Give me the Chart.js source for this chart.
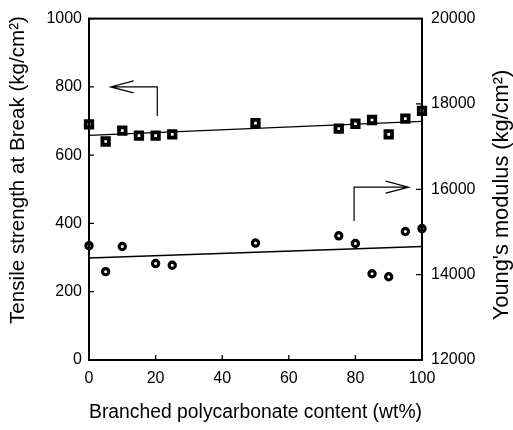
<!DOCTYPE html>
<html>
<head>
<meta charset="utf-8">
<script src="https://cdn.jsdelivr.net/npm/chart.js@4"></script>
<style>
  body { margin: 0; background: #fff; }
  #wrap { width: 513px; height: 430px; }
</style>
</head>
<body>
<div id="wrap"><canvas id="chart" width="513" height="430"></canvas></div>
<script>
// values
const content = [0, 5, 10, 15, 20, 25, 50, 75, 80, 85, 90, 95, 100];
const tensile = [690, 640, 672, 657, 657, 661, 694, 678, 692, 703, 661, 707, 730];

const modContent = [0, 5, 10, 20, 25, 50, 75, 80, 85, 90, 95, 100];
const modulus = [14680, 14070, 14660, 14260, 14220, 14740, 14910, 14730, 14020, 13950, 15010, 15080];

const fitContent = [0, 100];
const tensileFit = [658, 699];
const modulusFit = [14390, 14660];

const xTicks = [0, 20, 40, 60, 80, 100];
const tensileTicks = [0, 200, 400, 600, 800, 1000];
const modulusTicks = [12000, 14000, 16000, 18000, 20000];

// arrow annotations, in data units (last point is the tip)
const tensileArrow = [[20.5, 715], [20.5, 800], [6.5, 800]];
const modulusArrow = [[79.6, 15260], [79.6, 16050], [96, 16050]];

const FONT = '"Liberation Sans", Arial, sans-serif';

const toPoints = (xs, ys) => xs.map((x, i) => ({ x: x, y: ys[i] }));

const frame = {
  id: 'frame',
  afterDraw(chart) {
    const { ctx, chartArea: a, scales } = chart;
    ctx.save();
    ctx.strokeStyle = '#000';
    ctx.lineWidth = 2;
    ctx.strokeRect(a.left, a.top, a.right - a.left, a.bottom - a.top);

    // inward tick marks
    ctx.lineWidth = 1.3;
    ctx.beginPath();
    xTicks.forEach((v) => {
      const x = scales.x.getPixelForValue(v);
      ctx.moveTo(x, a.bottom); ctx.lineTo(x, a.bottom - 5);
    });
    tensileTicks.forEach((v) => {
      const y = scales.y.getPixelForValue(v);
      ctx.moveTo(a.left, y); ctx.lineTo(a.left + 5, y);
    });
    modulusTicks.forEach((v) => {
      const y = scales.y1.getPixelForValue(v);
      ctx.moveTo(a.right, y); ctx.lineTo(a.right - 6, y);
    });
    ctx.stroke();

    // arrows
    const arrow = (pts, yScale, dir) => {
      const p = pts.map((q) => [scales.x.getPixelForValue(q[0]), yScale.getPixelForValue(q[1])]);
      ctx.beginPath();
      ctx.moveTo(p[0][0], p[0][1]);
      p.slice(1).forEach((q) => ctx.lineTo(q[0], q[1]));
      const tip = p[p.length - 1];
      ctx.moveTo(tip[0] - dir * 23, tip[1] - 6);
      ctx.lineTo(tip[0], tip[1]);
      ctx.lineTo(tip[0] - dir * 23, tip[1] + 6);
      ctx.stroke();
    };
    ctx.lineWidth = 1.2;
    arrow(tensileArrow, scales.y, -1);
    arrow(modulusArrow, scales.y1, 1);

    // vertical axis titles, both reading bottom to top
    ctx.fillStyle = '#000';
    ctx.textAlign = 'center';
    ctx.textBaseline = 'middle';
    ctx.save();
    ctx.font = '20.6px ' + FONT;
    ctx.translate(18, 170);
    ctx.rotate(-Math.PI / 2);
    ctx.fillText('Tensile strength at Break (kg/cm²)', 0, 0);
    ctx.restore();
    ctx.save();
    ctx.font = '21.8px ' + FONT;
    ctx.translate(502, 195);
    ctx.rotate(-Math.PI / 2);
    ctx.fillText('Young\'s modulus (kg/cm²)', 0, 0);
    ctx.restore();
    ctx.restore();
  }
};

const tickStyle = (pad) => ({
  color: '#000',
  padding: pad,
  font: { family: FONT, size: 16 },
  callback: (v) => String(v)
});

new Chart(document.getElementById('chart'), {
  type: 'scatter',
  data: {
    datasets: [
      {
        data: toPoints(content, tensile),
        yAxisID: 'y',
        pointStyle: 'rect',
        pointRadius: 4.6,
        borderWidth: 3.8,
        borderColor: '#000',
        backgroundColor: '#fff',
        clip: false
      },
      {
        data: toPoints(modContent, modulus),
        yAxisID: 'y1',
        pointStyle: 'circle',
        pointRadius: 3.1,
        borderWidth: 3.2,
        borderColor: '#000',
        backgroundColor: '#fff',
        clip: false
      },
      {
        data: toPoints(fitContent, tensileFit),
        yAxisID: 'y',
        showLine: true,
        pointRadius: 0,
        borderWidth: 1.3,
        borderColor: '#000'
      },
      {
        data: toPoints(fitContent, modulusFit),
        yAxisID: 'y1',
        showLine: true,
        pointRadius: 0,
        borderWidth: 1.3,
        borderColor: '#000'
      }
    ]
  },
  options: {
    responsive: false,
    animation: false,
    layout: { padding: { top: 12, left: 0, right: 0, bottom: 0 } },
    plugins: {
      legend: { display: false },
      tooltip: { enabled: false }
    },
    scales: {
      x: {
        type: 'linear',
        min: 0,
        max: 100,
        afterFit: (scale) => { scale.height = 70 },
        afterBuildTicks: (scale) => { scale.ticks = xTicks.map((v) => ({ value: v })) },
        grid: { drawOnChartArea: false, drawTicks: false },
        border: { display: false },
        ticks: tickStyle(9),
        title: {
          display: true,
          text: 'Branched polycarbonate content (wt%)',
          color: '#000',
          padding: { top: 4, bottom: 6 },
          font: { family: FONT, size: 20 }
        }
      },
      y: {
        position: 'left',
        min: 0,
        max: 1000,
        afterFit: (scale) => { scale.width = 89 },
        afterBuildTicks: (scale) => { scale.ticks = tensileTicks.map((v) => ({ value: v })) },
        grid: { drawOnChartArea: false, drawTicks: false },
        border: { display: false },
        ticks: tickStyle(7)
      },
      y1: {
        position: 'right',
        min: 12000,
        max: 20000,
        afterFit: (scale) => { scale.width = 91 },
        afterBuildTicks: (scale) => { scale.ticks = modulusTicks.map((v) => ({ value: v })) },
        grid: { drawOnChartArea: false, drawTicks: false },
        border: { display: false },
        ticks: tickStyle(9)
      }
    }
  },
  plugins: [frame]
});
</script>
</body>
</html>
